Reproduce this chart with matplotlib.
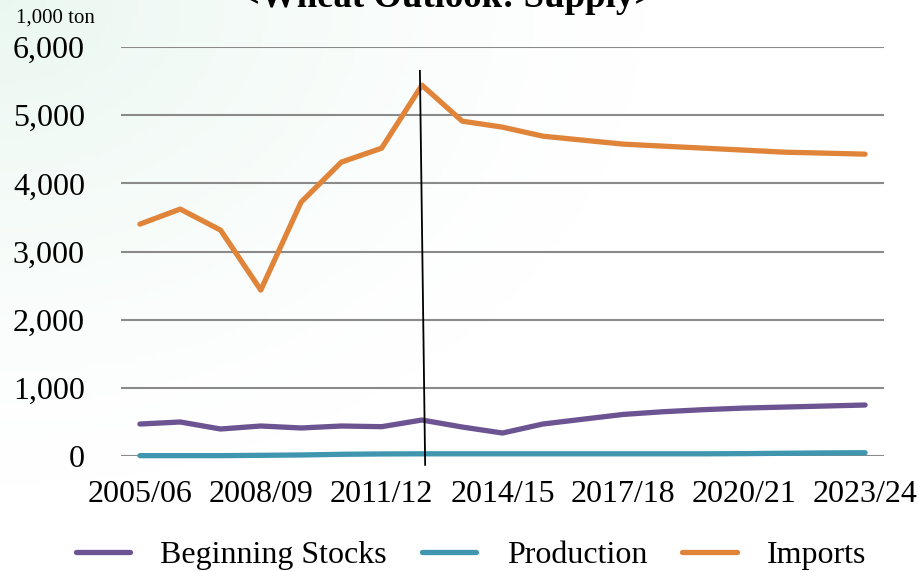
import numpy as np
import matplotlib
matplotlib.use("Agg")
import matplotlib.pyplot as plt

plt.rcParams['font.family'] = ['Liberation Serif', 'DejaVu Serif']

# data (1,000 ton)
years = ['2005/06', '2006/07', '2007/08', '2008/09', '2009/10', '2010/11', '2011/12',
         '2012/13', '2013/14', '2014/15', '2015/16', '2016/17', '2017/18', '2018/19',
         '2019/20', '2020/21', '2021/22', '2022/23', '2023/24']
beginning_stocks = [469, 499, 396, 440, 411, 440, 430, 528, 425, 337, 469, 540, 610,
                    650, 680, 703, 718, 733, 748]
production = [5, 5, 5, 10, 15, 25, 30, 32, 32, 32, 32, 32, 32, 32, 32, 35, 40, 45, 48]
imports = [3402, 3622, 3314, 2434, 3724, 4311, 4516, 5440, 4912, 4824, 4692, 4633,
           4575, 4545, 4516, 4487, 4457, 4443, 4428]
yticks = [0, 1000, 2000, 3000, 4000, 5000, 6000]

c_stock = '#6C5391'
c_prod = '#3F96AE'
c_imp = '#E0843A'

fig = plt.figure(figsize=(9.2, 5.71), dpi=100)

# faint green wash in the top-left corner
bg = fig.add_axes([0, 0, 1, 1], zorder=-10)
gx, gy = np.meshgrid(np.linspace(0, 1, 200), np.linspace(0, 1, 120))
w = np.clip(1 - np.sqrt((gx / 0.7) ** 2 + (gy / 0.85) ** 2), 0, 1) ** 1.3
img = np.ones((120, 200, 3))
img[..., 0] -= 0.08 * w
img[..., 1] -= 0.03 * w
img[..., 2] -= 0.055 * w
bg.imshow(img, aspect='auto', extent=[0, 1, 0, 1], origin='upper')
bg.axis('off')

ax = fig.add_axes([121 / 920, 1 - 456 / 571, 763 / 920, 409 / 571])
ax.patch.set_alpha(0)
x = np.arange(len(years))

ax.plot(x, beginning_stocks, color=c_stock, lw=3.8, solid_capstyle='round',
        label='Beginning Stocks', zorder=3)
ax.plot(x, production, color=c_prod, lw=3.8, solid_capstyle='round',
        label='Production', zorder=3, clip_on=False)
ax.plot(x, imports, color=c_imp, lw=3.8, solid_capstyle='round',
        label='Imports', zorder=3)

# separator between actual and outlook years
ax.plot([6.95, 7.08], [5650, -130], color='black', lw=1.3, zorder=4, clip_on=False)

ax.set_xlim(-0.47, len(years) - 1 + 0.47)
ax.set_ylim(0, 6000)
ax.set_yticks(yticks)
ax.set_yticklabels([f'{v:,}' for v in yticks])
ax.set_xticks(x[::3])
ax.set_xticklabels(years[::3])
ax.tick_params(axis='y', length=0, pad=26, labelsize=23)
ax.tick_params(axis='x', length=0, pad=17, labelsize=23)
ax.grid(axis='y', color='#8A8A8A', lw=1.5, zorder=1)
ax.set_axisbelow(True)
for s in ax.spines.values():
    s.set_visible(False)

fig.text(16 / 920, 1 - 18 / 571, '1,000 ton', fontsize=15, va='center', ha='left')
fig.text(447 / 920, 1 - 7 / 571, '<Wheat Outlook: Supply>', fontsize=26.5,
         fontweight='bold', ha='center', va='baseline')

fig.legend(loc='center', bbox_to_anchor=(471 / 920, 1 - 555 / 571), ncol=3,
           frameon=False, fontsize=23, handlelength=1.7, handletextpad=0.95,
           columnspacing=1.1)

fig.savefig('out.png', dpi=100)
